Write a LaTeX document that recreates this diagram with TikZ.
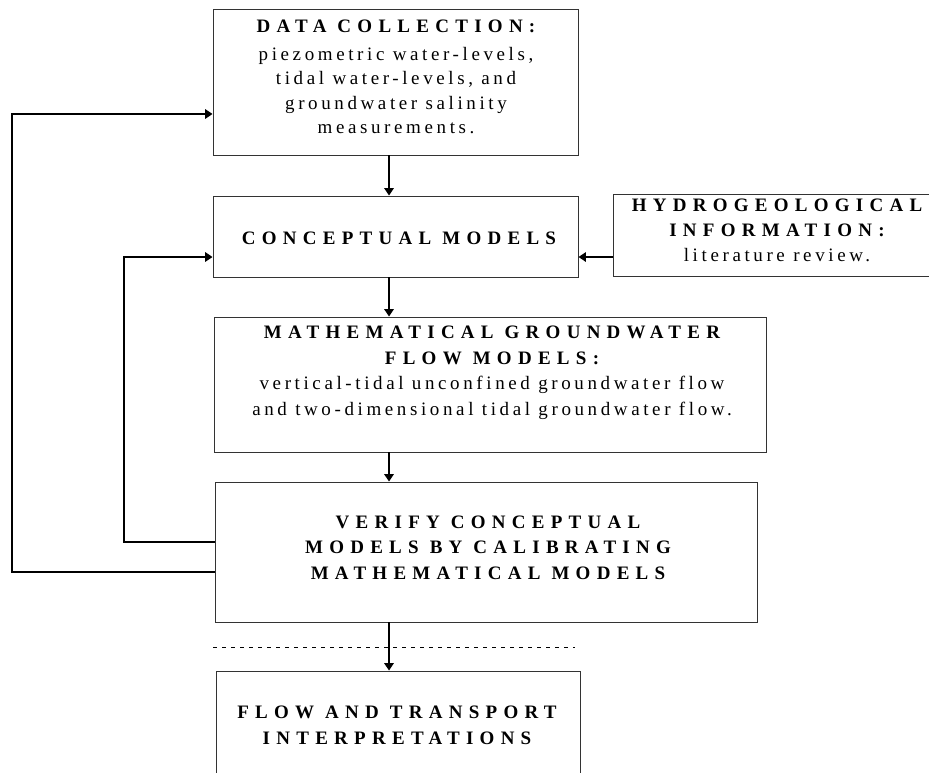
\documentclass[tikz,border=0pt]{standalone}
\usepackage{fontspec}
\setmainfont{Liberation Serif}
\newfontfamily\ttlfont{Liberation Serif}[LetterSpace=33]
\newfontfamily\bdyfont{Liberation Serif}[LetterSpace=19]
\usetikzlibrary{arrows.meta}
\begin{document}
\begin{tikzpicture}[x=1pt,y=-1pt,
  box/.style={draw=black!80, line width=0.9pt, inner sep=0pt, rectangle},
  conn/.style={line width=1.6pt, -{Triangle[length=7.5pt,width=9.5pt]}},
  sep/.style={line width=1pt, dash pattern=on 4pt off 5pt},
  txt/.style={align=center, inner sep=0pt, font=\fontsize{19}{24.5}\selectfont},
]
\useasboundingbox (0,0) rectangle (929,773);
% boxes
\node[box, minimum width=365pt, minimum height=146pt] (b1) at (395.5,82) {};
\node[box, minimum width=365pt, minimum height=81pt] (b2) at (395.5,236.5) {};
\node[box, minimum width=324pt, minimum height=82pt] (hyd) at (775,235) {};
\node[box, minimum width=552pt, minimum height=135pt] (b3) at (490,384.5) {};
\node[box, minimum width=542pt, minimum height=140pt] (b4) at (486,552) {};
\node[box, minimum width=364pt, minimum height=120pt] (b5) at (398,731) {};
% texts
\node[txt] (t1) at (396,77) {{\ttlfont\bfseries DATA COLLECTION:}\\[3.5pt]{\bdyfont piezometric water-levels,}\\{\bdyfont tidal water-levels, and}\\{\bdyfont groundwater salinity}\\{\bdyfont measurements.}};
\node[txt] (t2) at (399,238) {\ttlfont\bfseries CONCEPTUAL MODELS};
\node[txt, font=\fontsize{19}{25}\selectfont] (th) at (777,230) {{\ttlfont\bfseries HYDROGEOLOGICAL}\\{\ttlfont\bfseries INFORMATION:}\\{\bdyfont literature review.}};
\node[txt, font=\fontsize{19}{25.5}\selectfont] (t3) at (492,373) {{\ttlfont\bfseries MATHEMATICAL GROUNDWATER}\\{\ttlfont\bfseries FLOW MODELS:}\\{\bdyfont vertical-tidal unconfined groundwater flow}\\{\bdyfont and two-dimensional tidal groundwater flow.}};
\node[txt, font=\fontsize{19}{25.5}\selectfont] (t4) at (488,547.5) {{\ttlfont\bfseries VERIFY CONCEPTUAL}\\{\ttlfont\bfseries MODELS BY CALIBRATING}\\{\ttlfont\bfseries MATHEMATICAL MODELS}};
\node[txt, font=\fontsize{19}{26}\selectfont] (t5) at (397,725) {{\ttlfont\bfseries FLOW AND TRANSPORT}\\{\ttlfont\bfseries INTERPRETATIONS}};
% helper coordinates
\coordinate (ax) at (389,0);
\coordinate (ay) at (0,257);
\coordinate (o1) at (12,572);
\coordinate (o2) at (12,114);
\coordinate (i1) at (124,542);
\coordinate (i2) at (124,257);
\coordinate (d1) at (213,647);
\coordinate (d2) at (575,647);
% dashed separator
\draw[sep] (d1) -- (d2);
% main flow
\draw[conn] (b1.south -| ax) -- (b2.north -| ax);
\draw[conn] (b2.south -| ax) -- (b3.north -| ax);
\draw[conn] (b3.south -| ax) -- (b4.north -| ax);
\draw[conn] (b4.south -| ax) -- (b5.north -| ax);
\draw[conn] (hyd.west |- ay) -- (b2.east |- ay);
% feedback loops
\draw[conn] (b4.west |- o1) -- (o1) -- (o2) -- (b1.west |- o2);
\draw[conn] (b4.west |- i1) -- (i1) -- (i2) -- (b2.west |- i2);
\end{tikzpicture}
\end{document}
